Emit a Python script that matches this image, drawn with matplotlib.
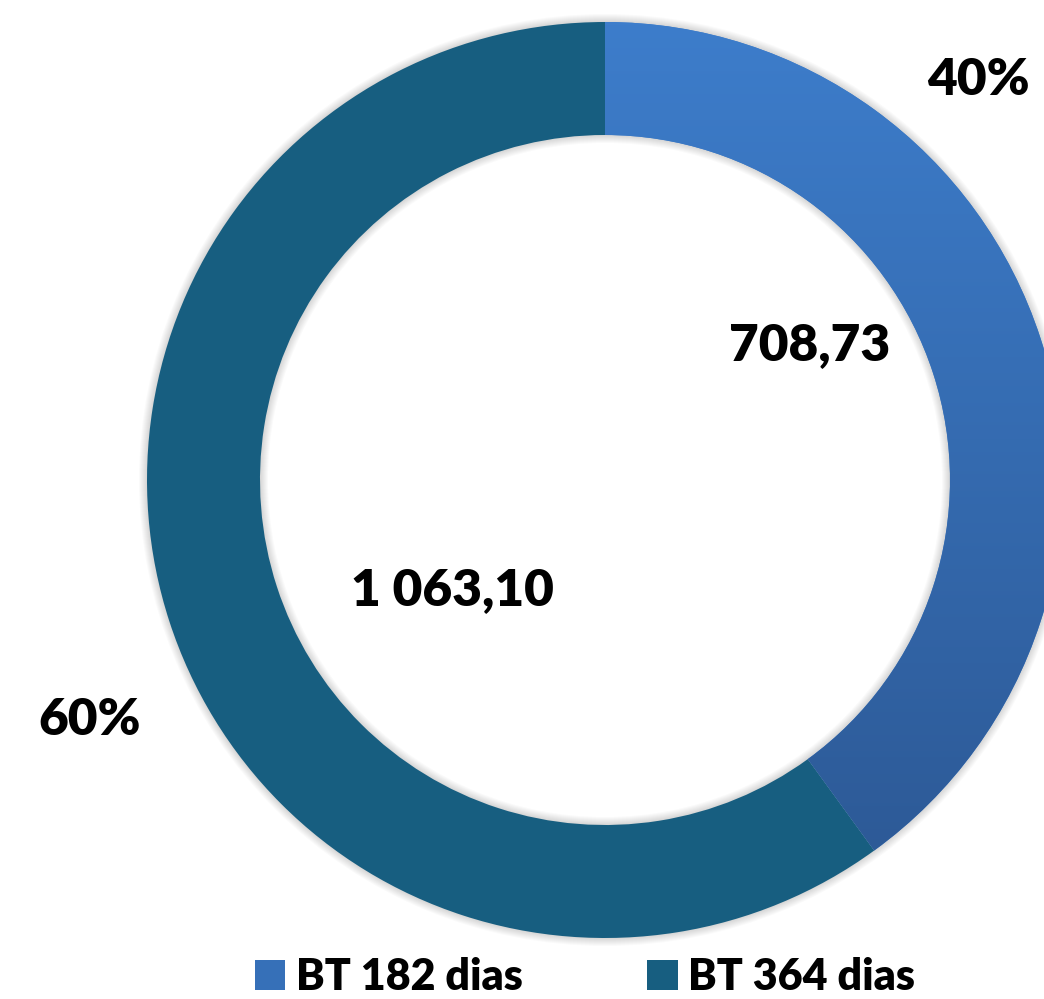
import numpy as np
import matplotlib.pyplot as plt
from matplotlib.patches import Patch, Wedge
from matplotlib.colors import LinearSegmentedColormap

labels = ["BT 182 dias", "BT 364 dias"]
values = [708.73, 1063.10]
value_labels = ["708,73", "1 063,10"]
pct_labels = ["40%", "60%"]

plt.rcParams['font.family'] = ['Lato', 'DejaVu Sans']
plt.rcParams['font.weight'] = 'heavy'

W, H = 1044, 999
fig = plt.figure(figsize=(W / 100, H / 100), dpi=100)
ax = fig.add_axes([0, 0, 1, 1])
ax.set_xlim(0, W)
ax.set_ylim(0, H)
ax.set_aspect('equal')
ax.axis('off')

cx, cy = 605, 519
r_out, ring = 458, 113
light_top, light_bot = '#3d7dcb', '#2d5a97'
dark = '#175e80'

# soft shadow around the ring
for k in range(1, 9):
    ax.add_patch(Wedge((cx, cy), r_out + k, 0, 360, width=ring + 2 * k,
                       facecolor='black', edgecolor='none', alpha=0.018, zorder=1))

wedges, _ = ax.pie(values, center=(cx, cy), radius=r_out, startangle=90,
                   counterclock=False, colors=[light_top, dark],
                   wedgeprops=dict(width=ring, edgecolor='none'), frame=True)
for w in wedges:
    w.set_zorder(2)

# vertical gradient on the first wedge
cmap = LinearSegmentedColormap.from_list('g', [light_bot, light_top])
grad = np.linspace(0, 1, 256).reshape(-1, 1)
im = ax.imshow(grad, cmap=cmap, origin='lower', aspect='auto', zorder=3,
               extent=(cx - r_out, cx + r_out, cy - 375, cy + r_out))
im.set_clip_path(wedges[0])
ax.set_xlim(0, W)
ax.set_ylim(0, H)
ax.axis('off')

fs = 37
ax.text(978, 919, pct_labels[0], fontsize=fs, ha='center', va='center')
ax.text(90, 279, pct_labels[1], fontsize=fs, ha='center', va='center')
ax.text(810, 654, value_labels[0], fontsize=fs, ha='center', va='center')
ax.text(452, 409, value_labels[1], fontsize=fs, ha='center', va='center')

handles = [Patch(facecolor='#3670b8', edgecolor='none'), Patch(facecolor=dark, edgecolor='none')]
ax.legend(handles, labels, loc='center', bbox_to_anchor=(585 / W, 1 - 977 / H),
          bbox_transform=fig.transFigure, ncol=2, frameon=False,
          prop=dict(family=['Lato', 'DejaVu Sans'], weight='heavy', size=31),
          handlelength=0.7, handleheight=0.7, handletextpad=0.25, columnspacing=2.9,
          borderpad=0, borderaxespad=0)

fig.savefig('out.png', dpi=100)
